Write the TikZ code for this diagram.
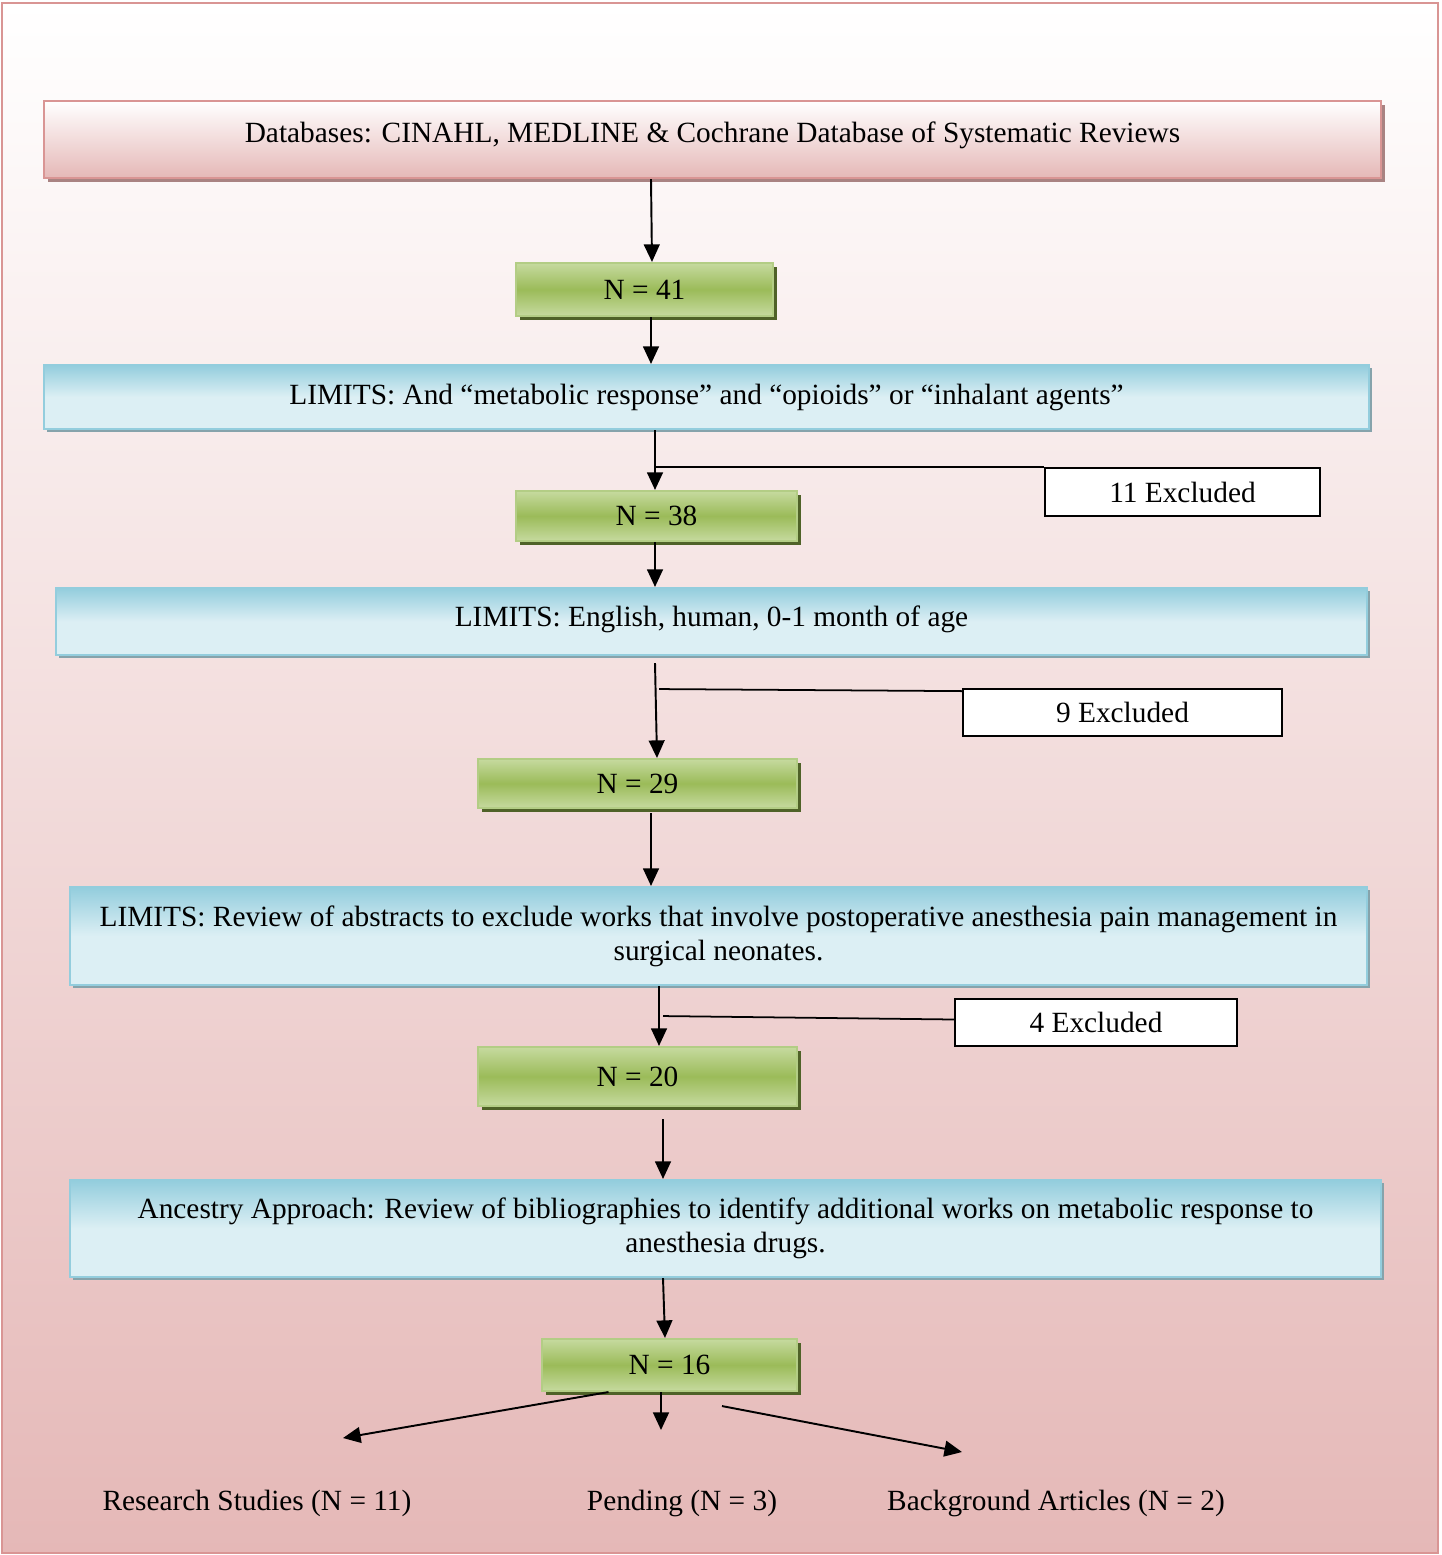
\documentclass[tikz,border=0pt]{standalone}
\usepackage{fontspec}
\setmainfont{Liberation Serif}
\usetikzlibrary{arrows.meta,shadows}
\definecolor{pinkline}{HTML}{D99594}
\definecolor{pinkfill}{HTML}{E5B8B7}
\definecolor{pinkshade}{HTML}{A98382}
\definecolor{greenfill}{HTML}{9BBB59}
\definecolor{greenlight}{HTML}{C6DA9F}
\definecolor{greenline}{HTML}{B3CD85}
\definecolor{greenshade}{HTML}{4F6228}
\definecolor{bluefill}{HTML}{93CDDD}
\definecolor{bluelight}{HTML}{DCEFF4}
\definecolor{blueshade}{HTML}{86A3AB}

\begin{document}
\begin{tikzpicture}[x=0.02cm, y=-0.02cm, font=\fontsize{16.7}{19.5}\selectfont,
        dbbox/.style={draw=pinkline, line width=1.2pt, top color=white, bottom color=pinkfill,
            drop shadow={shadow xshift=0.08cm, shadow yshift=-0.08cm, fill=pinkshade, opacity=1}},
        nbox/.style={draw=greenline, line width=1.2pt, top color=greenlight, bottom color=greenlight, middle color=greenfill,
            drop shadow={shadow xshift=0.08cm, shadow yshift=-0.08cm, fill=greenshade, opacity=1}},
        limbox/.style={draw=bluefill, line width=1.2pt, top color=bluefill, bottom color=bluelight, middle color=bluelight,
            drop shadow={shadow xshift=0.06cm, shadow yshift=-0.06cm, fill=blueshade, opacity=1}, align=center},
        exbox/.style={draw, line width=1pt, fill=white},
        arr/.style={-{Triangle[length=10pt,width=9pt]}, line width=1.1pt},
        link/.style={line width=1pt}]

            \useasboundingbox (0,0) rectangle (1442,1555);
            \shade[top color=white, bottom color=pinkfill] (2,3) rectangle (1438,1553);
            \draw[pinkline, line width=1.5pt] (2,3) rectangle (1438,1553);

            \node[dbbox, minimum width=26.74cm, minimum height=1.54cm, text depth=0.3cm] (db) at (712.5,139.5) {Databases: CINAHL, MEDLINE \& Cochrane Database of Systematic Reviews};

            \node[nbox, minimum width=5.14cm, minimum height=1.06cm] (n41) at (644.5,289.5) {N = 41};
            \node[limbox, minimum width=26.5cm, minimum height=1.28cm] (lim1) at (706.5,397) {LIMITS: And “metabolic response” and “opioids” or “inhalant agents”};
            \node[nbox, minimum width=5.62cm, minimum height=1.0cm] (n38) at (656.5,516) {N = 38};
            \node[exbox, minimum width=5.5cm, minimum height=0.96cm] (ex1) at (1182.5,492) {11 Excluded};

            \node[limbox, minimum width=26.22cm, minimum height=1.34cm, text depth=0.2cm] (lim2) at (711.5,621.5) {LIMITS: English, human, 0-1 month of age};
            \node[nbox, minimum width=6.38cm, minimum height=0.98cm] (n29) at (637.5,783.5) {N = 29};
            \node[exbox, minimum width=6.38cm, minimum height=0.94cm] (ex2) at (1122.5,712.5) {9 Excluded};

            \node[limbox, minimum width=25.94cm, minimum height=1.96cm] (lim3) at (718.5,936) {LIMITS: Review of abstracts to exclude works that involve postoperative anesthesia pain management in\\ surgical neonates.};
            \node[nbox, minimum width=6.38cm, minimum height=1.18cm] (n20) at (637.5,1076.5) {N = 20};
            \node[exbox, minimum width=5.64cm, minimum height=0.94cm] (ex3) at (1096,1022.5) {4 Excluded};

            \node[limbox, minimum width=26.22cm, minimum height=1.94cm] (anc) at (725.5,1228.5) {Ancestry Approach: Review of bibliographies to identify additional works on metabolic response to\\ anesthesia drugs.};
            \node[nbox, minimum width=5.1cm, minimum height=1.04cm] (n16) at (669.5,1365) {N = 16};

            \node (rs) at (257,1503) {Research Studies (N = 11)};
            \node (pend) at (682,1503) {Pending (N = 3)};
            \node (bg) at (1056,1503) {Background Articles (N = 2)};
            \coordinate (rstip) at (343,1438);
            \coordinate (pendtip) at (661,1430);
            \coordinate (bgtip) at (962,1452);

            \draw[arr] (db.south -| 651,0) -- (n41.north -| 652,0);
            \draw[arr] (n41.south -| 651,0) -- (lim1.north -| 651,0);
            \draw[arr] (lim1.south -| 655,0) -- (n38.north -| 655,0);
            \draw[link] (ex1.north west -| 655,0) -- (ex1.north west);
            \draw[arr] (n38.south -| 655,0) -- (lim2.north -| 655,0);
            \draw[arr] ([yshift=-0.14cm]lim2.south -| 655,0) -- (n29.north -| 657,0);
            \draw[link] (lim2.south -| 659,0) ++(0,33) -- ([yshift=-0.06cm]ex2.north west);
            \draw[arr] (n29.south -| 651,0) ++(0,4) -- (lim3.north -| 651,0);
            \draw[arr] (lim3.south -| 659,0) -- (n20.north -| 659,0);
            \draw[link] (lim3.south -| 663,0) ++(0,30) -- ([yshift=0.06cm]ex3.west);
            \draw[arr] (n20.south -| 663,0) ++(0,12) -- (anc.north -| 663,0);
            \draw[arr] (anc.south -| 663,0) -- (n16.north -| 665,0);

            \draw[arr] ([xshift=-1.22cm]n16.south) -- (rstip);
            \draw[arr] (n16.south -| pendtip) -- (pendtip);
            \draw[arr] ([xshift=1.05cm,yshift=-0.28cm]n16.south) -- (bgtip);

        \end{tikzpicture}
\end{document}
